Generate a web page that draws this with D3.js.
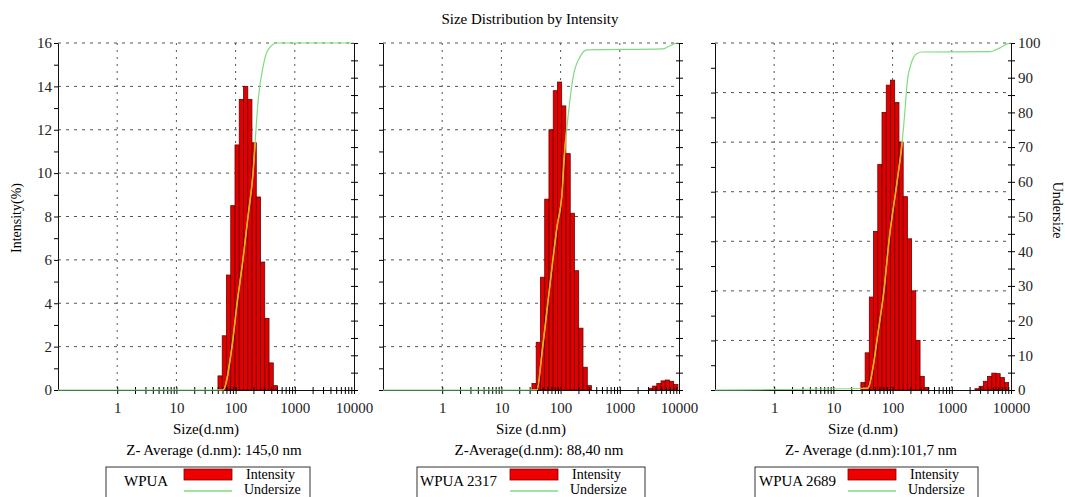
<!DOCTYPE html>
<html>
<head>
<meta charset="utf-8">
<script src="https://cdn.jsdelivr.net/npm/d3@7"></script>
<style>
  body { margin: 0; background: #fff; }
  svg { font-family: "Liberation Serif", "Times New Roman", serif; }
</style>
</head>
<body>
<div id="chart"></div>
<script>
// ---- data ----
const chartTitle = "Size Distribution by Intensity";
const sizeTickLabels = [1, 10, 100, 1000, 10000];
const sampleNames = ["WPUA", "WPUA 2317", "WPUA 2689"];
const xTitles = ["Size(d.nm)", "Size (d.nm)", "Size (d.nm)"];
const zAverages = ["Z- Average (d.nm): 145,0 nm", "Z-Average(d.nm): 88,40 nm", "Z- Average (d.nm):101,7 nm"];
const intensityMax = [16, 16, 14];

// WPUA
const wpuaSize = [54.7, 64.5, 76.2, 89.9, 106, 125, 148, 174, 206, 243, 286, 338, 399, 471];
const wpuaIntensity = [0.65, 2.5, 5.3, 8.5, 11.3, 13.4, 14.0, 13.4, 11.4, 8.9, 5.9, 3.3, 1.25, 0.2];
const wpuaUnderSize = [0.1, 61.2, 86.9, 106, 133, 162, 197, 221, 239, 290, 352, 500, 10000];
const wpuaUndersize = [0, 0, 12.5, 25, 37.5, 50, 62.5, 75, 83, 93, 98, 100, 100];

// WPUA 2317
const wpua2317Size = [35.6, 42.0, 49.6, 58.5, 69.0, 81.5, 96.1, 113, 134, 158, 186, 220, 260, 306,
                      3300, 3890, 4580, 5400, 6360, 7490, 8820];
const wpua2317Intensity = [0.3, 2.2, 5.2, 8.8, 12.0, 13.8, 14.2, 13.1, 10.9, 8.15, 5.5, 2.85, 1.05, 0.2,
                           0.08, 0.18, 0.3, 0.42, 0.46, 0.4, 0.25];
const wpua2317UnderSize = [0.1, 39.9, 48.5, 58.9, 71.6, 86.9, 106, 114, 128, 144, 162, 213, 279, 5370, 7050, 9250, 10000];
const wpua2317Undersize = [0, 0, 10.7, 23, 35.4, 47, 57, 66, 75.8, 83.6, 90, 96, 98, 98.3, 99.2, 100, 100];

// WPUA 2689
const wpua2689Size = [31.6, 37.3, 43.9, 51.8, 61.0, 71.9, 84.8, 99.9, 118, 139, 164, 193, 227, 268, 316, 373,
                      2670, 3140, 3700, 4360, 5140, 6050, 7130, 8400];
const wpua2689Intensity = [0.3, 1.5, 3.75, 6.4, 9.1, 11.2, 12.3, 12.5, 11.6, 10.0, 7.8, 6.1, 4.0, 2.0, 0.55, 0.1,
                           0.05, 0.15, 0.35, 0.55, 0.68, 0.66, 0.5, 0.3];
const wpua2689UnderSize = [0.1, 38.4, 44.9, 56.6, 71.6, 86.9, 119, 144, 162, 175, 205, 258, 314, 4420, 6520, 8890, 10000];
const wpua2689Undersize = [0, 0.5, 4.9, 16.4, 28.8, 43, 60, 71, 80.6, 88, 94, 97, 97.4, 97.5, 98.6, 99.8, 100];

// ---- layout ----
const W = 1065, H = 497;
const plotTop = 43, plotBottom = 390;
const binRatio = 1.178;   // width of one size class (ratio between neighbours)

const panels = [
    { x0: 58,  x1: 354,  boxX: 106, boxW: 204, nameX: 124, swatchX: 184, leftLabels: true,  rightLabels: false,
      size: wpuaSize, intensity: wpuaIntensity, uSize: wpuaUnderSize, under: wpuaUndersize },
    { x0: 383, x1: 679,  boxX: 417, boxW: 228, nameX: 420, swatchX: 510, leftLabels: false, rightLabels: false,
      size: wpua2317Size, intensity: wpua2317Intensity, uSize: wpua2317UnderSize, under: wpua2317Undersize },
    { x0: 715, x1: 1011, boxX: 755, boxW: 223, nameX: 759, swatchX: 848, leftLabels: false, rightLabels: true,
      size: wpua2689Size, intensity: wpua2689Intensity, uSize: wpua2689UnderSize, under: wpua2689Undersize }
];

const svg = d3.select("#chart")
    .append("svg")
    .attr("width", W)
    .attr("height", H);

const defs = svg.append("defs");

// Title
svg.append("text")
    .attr("x", 530)
    .attr("y", 24)
    .attr("text-anchor", "middle")
    .style("font-size", "15px")
    .text(chartTitle);

// Axis titles
svg.append("text")
    .attr("transform", "translate(21,218) rotate(-90)")
    .attr("text-anchor", "middle")
    .style("font-size", "14px")
    .text("Intensity(%)");

svg.append("text")
    .attr("transform", "translate(1053,210) rotate(90)")
    .attr("text-anchor", "middle")
    .style("font-size", "14px")
    .text("Undersize");

const half = Math.sqrt(binRatio);

panels.forEach((p, i) => {
    const yMax = intensityMax[i];
    const x = d3.scaleLog().domain([0.1, 10000]).range([p.x0, p.x1]);
    const y = d3.scaleLinear().domain([0, yMax]).range([plotBottom, plotTop]);
    const yU = d3.scaleLinear().domain([0, 100]).range([plotBottom, plotTop]);

    const g = svg.append("g");

    // Grid lines (dotted)
    g.selectAll(".hgrid")
        .data(d3.range(2, yMax + 1, 2))
        .join("line")
        .attr("x1", p.x0).attr("x2", p.x1)
        .attr("y1", d => y(d)).attr("y2", d => y(d))
        .attr("stroke", "#555")
        .attr("stroke-dasharray", "3,5");

    g.selectAll(".vgrid")
        .data([1, 10, 100, 1000])
        .join("line")
        .attr("x1", d => x(d)).attr("x2", d => x(d))
        .attr("y1", plotTop).attr("y2", plotBottom)
        .attr("stroke", "#555")
        .attr("stroke-dasharray", "2,5");

    // Intensity bars
    const bins = d3.zip(p.size, p.intensity);
    const barAttrs = sel => sel
        .attr("x", d => x(d[0] / half))
        .attr("width", d => x(d[0] * half) - x(d[0] / half))
        .attr("y", d => y(d[1]))
        .attr("height", d => plotBottom - y(d[1]));

    g.append("g")
        .selectAll("rect")
        .data(bins)
        .join("rect")
        .call(barAttrs)
        .attr("fill", "#e00000")
        .attr("stroke", "#6e0000")
        .attr("stroke-width", 0.8);

    const clipId = "bars" + i;
    defs.append("clipPath")
        .attr("id", clipId)
        .selectAll("rect")
        .data(bins)
        .join("rect")
        .call(barAttrs);

    // Bottom axis: log ticks, labels only on decades
    const xTicks = x.ticks().filter(d => d >= 1);
    g.append("g")
        .attr("transform", `translate(0,${plotBottom})`)
        .call(d3.axisBottom(x)
            .tickValues(xTicks)
            .tickSize(4)
            .tickSizeOuter(0)
            .tickPadding(8)
            .tickFormat(d => sizeTickLabels.includes(d) ? d : ""));
    g.append("g")
        .attr("transform", `translate(0,${plotBottom})`)
        .call(d3.axisTop(x).tickValues(xTicks).tickSize(3).tickFormat(""))
        .select(".domain").remove();

    // Left axis: intensity
    g.append("g")
        .attr("transform", `translate(${p.x0},0)`)
        .call(d3.axisLeft(y)
            .tickValues(d3.range(0, yMax + 1))
            .tickSize(4)
            .tickSizeOuter(0)
            .tickPadding(2)
            .tickFormat(d => (p.leftLabels && d % 2 === 0) ? d : ""));

    // Right axis: undersize
    g.append("g")
        .attr("transform", `translate(${p.x1},0)`)
        .call(d3.axisRight(yU)
            .tickValues(d3.range(0, 101, 5))
            .tickSize(4)
            .tickSizeOuter(0)
            .tickPadding(3)
            .tickFormat(d => (p.rightLabels && d % 10 === 0) ? d : ""));
    g.append("g")
        .attr("transform", `translate(${p.x1},0)`)
        .call(d3.axisLeft(yU).tickValues(d3.range(0, 101, 5)).tickSize(3).tickFormat(""))
        .select(".domain").remove();

    g.selectAll(".tick text")
        .style("font-family", "Liberation Serif, serif")
        .style("font-size", "15px")
        .attr("fill", "#222");
    g.selectAll(".domain").attr("stroke", "#111");

    // Undersize curve (shows orange where it crosses the bars)
    const pts = d3.zip(p.uSize, p.under);
    const line = d3.line()
        .x(d => x(d[0]))
        .y(d => yU(d[1]))
        .curve(d3.curveMonotoneX);

    g.append("path")
        .datum(pts)
        .attr("d", line)
        .attr("fill", "none")
        .attr("stroke", "#7fdc7f")
        .attr("stroke-width", 1.2);

    g.append("path")
        .datum(pts)
        .attr("d", line)
        .attr("clip-path", `url(#${clipId})`)
        .attr("fill", "none")
        .attr("stroke", "#e4b01c")
        .attr("stroke-width", 1.5);

    // Texts under the axis
    const cx = (p.x0 + p.x1) / 2;
    svg.append("text")
        .attr("x", cx)
        .attr("y", 434)
        .attr("text-anchor", "middle")
        .style("font-size", "15px")
        .text(xTitles[i]);

    svg.append("text")
        .attr("x", cx + 8)
        .attr("y", 455)
        .attr("text-anchor", "middle")
        .style("font-size", "15px")
        .text(zAverages[i]);

    // Legend box (runs off the bottom edge)
    const lg = svg.append("g");
    lg.append("rect")
        .attr("x", p.boxX)
        .attr("y", 467)
        .attr("width", p.boxW)
        .attr("height", 40)
        .attr("fill", "#fff")
        .attr("stroke", "#333");

    lg.append("text")
        .attr("x", p.nameX)
        .attr("y", 486)
        .style("font-size", "15px")
        .text(sampleNames[i]);

    lg.append("rect")
        .attr("x", p.swatchX)
        .attr("y", 469)
        .attr("width", 48)
        .attr("height", 11)
        .attr("fill", "#ee0000")
        .attr("stroke", "#8b0000")
        .attr("stroke-width", 0.8);

    lg.append("line")
        .attr("x1", p.swatchX).attr("x2", p.swatchX + 48)
        .attr("y1", 491).attr("y2", 491)
        .attr("stroke", "#7fdc7f")
        .attr("stroke-width", 1.5);

    lg.append("text")
        .attr("x", p.swatchX + 62)
        .attr("y", 479)
        .style("font-size", "14px")
        .text("Intensity");

    lg.append("text")
        .attr("x", p.swatchX + 60)
        .attr("y", 494)
        .style("font-size", "14px")
        .text("Undersize");
});
</script>
</body>
</html>
